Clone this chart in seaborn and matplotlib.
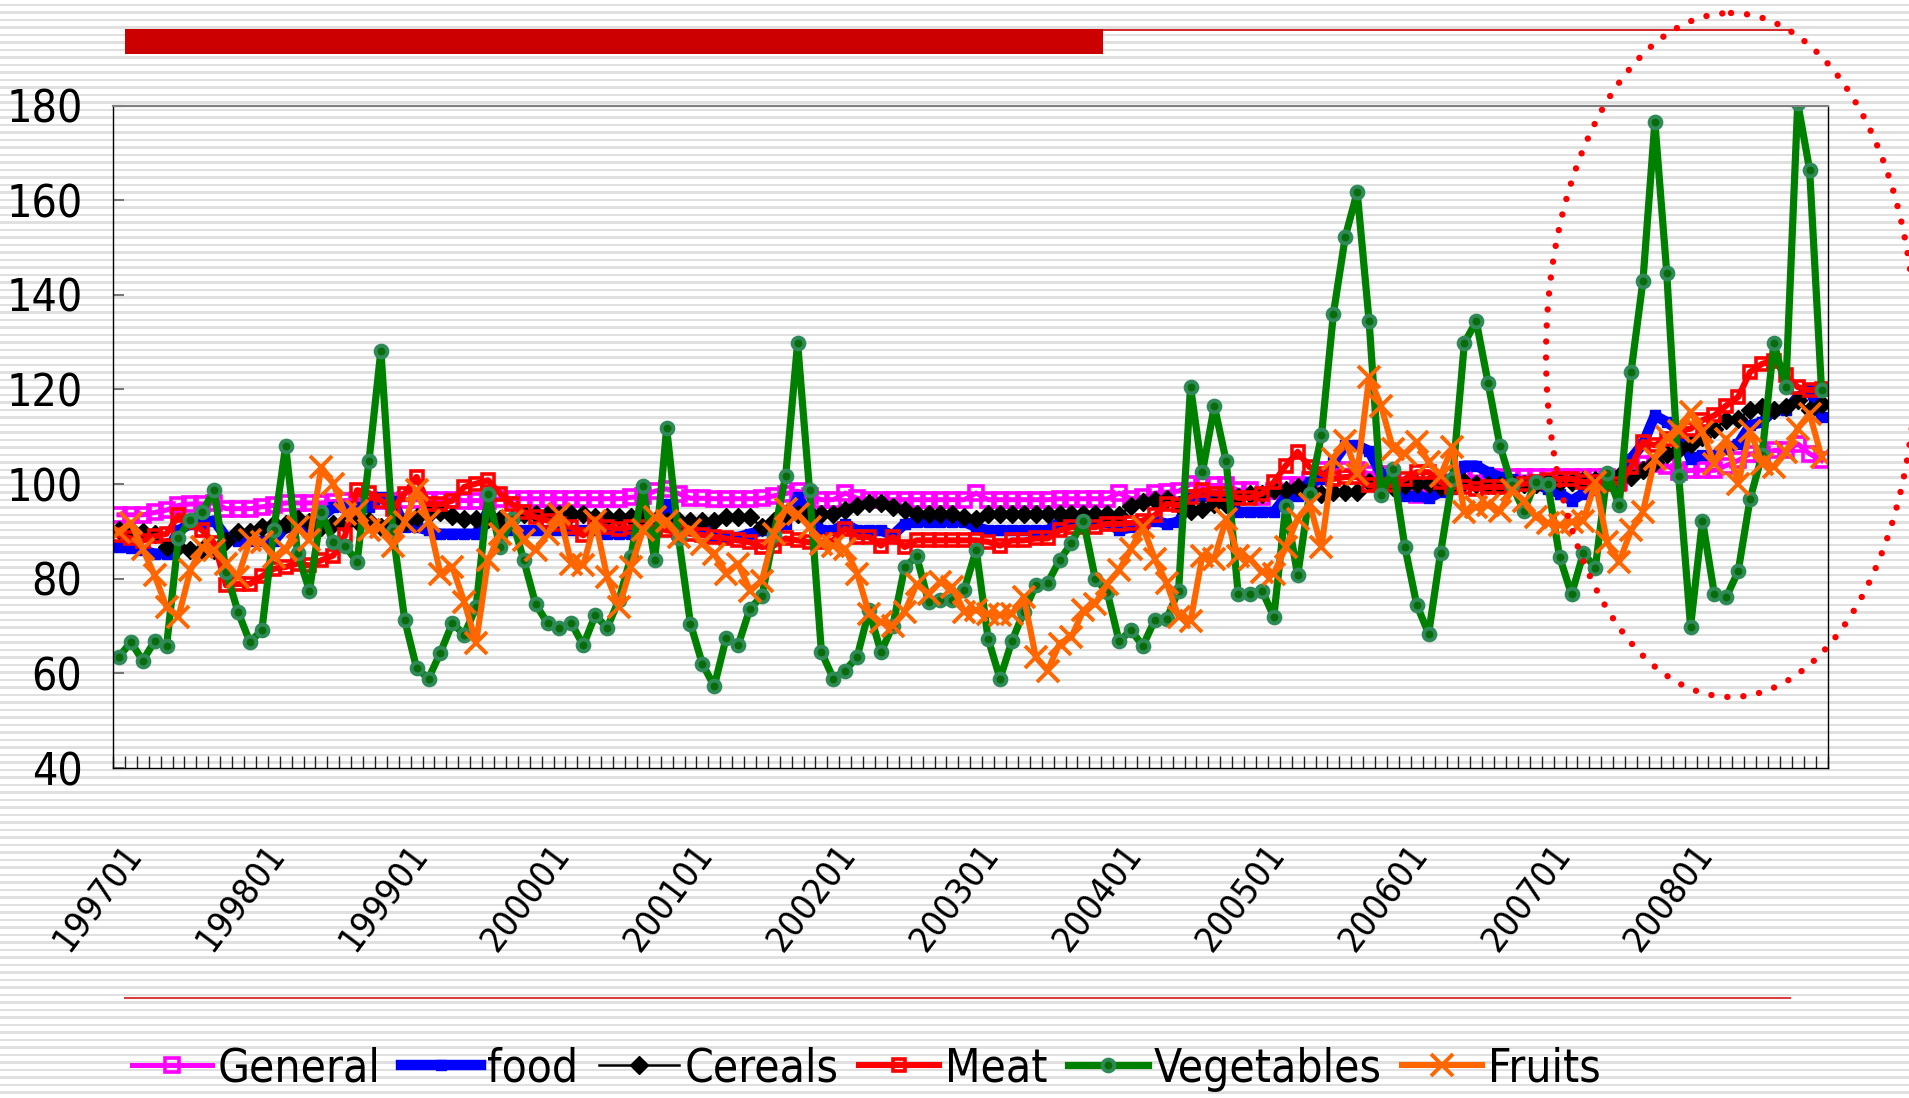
import numpy as np
import pandas as pd
import matplotlib
matplotlib.use("Agg")
import matplotlib.pyplot as plt
from matplotlib.patches import Ellipse, Rectangle
from matplotlib.transforms import ScaledTranslation
import seaborn as sns

W, H = 1909, 1098

# -----------------------------
# data (monthly index, 199701 - 200812)
# -----------------------------
months = [f"{y}{m:02d}" for y in range(1997, 2009) for m in range(1, 13)]
tick_labels = ["199701", "199801", "199901", "200001", "200101", "200201",
               "200301", "200401", "200501", "200601", "200701", "200801"]

general = [
    93.5, 93.5, 93.5, 94.0, 94.5, 95.5, 95.8, 95.8, 96.0, 94.8, 94.8, 94.8,
    95.2, 95.5, 96.0, 96.0, 96.0, 96.0, 96.3, 96.5, 96.5, 96.7, 96.5, 96.5,
    96.7, 96.7, 96.7, 96.7, 96.7, 96.5, 96.5, 96.5, 96.9, 96.9, 96.9, 96.9,
    96.9, 96.9, 96.9, 96.9, 96.9, 96.9, 96.9, 97.2, 97.5, 98.5, 99.0, 98.0,
    97.0, 97.0, 96.9, 96.9, 96.9, 96.9, 97.0, 97.5, 98.0, 98.5, 97.5, 96.7,
    96.7, 98.1, 97.0, 96.7, 96.7, 96.7, 96.7, 96.7, 96.7, 96.7, 96.7, 96.7,
    98.1, 96.7, 96.7, 96.7, 96.7, 96.7, 96.7, 96.9, 96.9, 96.9, 96.9, 96.9,
    98.1, 96.9, 97.2, 98.1, 98.3, 98.5, 100.0, 99.7, 99.7, 99.7, 98.7, 98.7,
    97.3, 98.5, 99.7, 99.7, 100.8, 102.9, 102.9, 102.9, 102.9, 102.2, 102.2, 100.0,
    98.7, 97.6, 99.0, 99.0, 101.8, 101.5, 101.5, 101.5, 101.5, 101.5, 101.5, 101.5,
    101.5, 101.5, 101.5, 101.5, 101.5, 101.5, 100.4, 103.6, 104.3, 104.3, 103.9, 102.5,
    102.9, 102.9, 102.9, 103.9, 105.0, 106.4, 106.4, 107.1, 107.1, 108.5, 106.4, 105.0,
]

food = [
    86.7, 86.5, 86.0, 85.3, 85.3, 90.2, 91.6, 91.6, 92.3, 88.8, 88.0, 88.0,
    88.0, 88.0, 90.9, 90.9, 90.9, 93.0, 95.1, 95.1, 95.1, 95.1, 97.2, 96.5,
    90.9, 90.9, 90.2, 89.5, 89.5, 89.5, 89.5, 94.4, 91.0, 90.2, 90.2, 90.2,
    90.2, 90.2, 90.2, 90.2, 90.2, 89.5, 89.5, 89.5, 94.4, 90.2, 95.8, 90.9,
    90.9, 90.9, 88.8, 88.8, 88.8, 89.5, 90.2, 90.2, 91.6, 97.2, 93.7, 90.2,
    90.2, 91.6, 90.2, 90.2, 90.2, 89.2, 91.6, 92.0, 92.0, 92.0, 92.0, 92.0,
    90.9, 90.2, 90.2, 90.2, 90.2, 90.2, 90.2, 92.0, 92.0, 92.0, 92.0, 92.0,
    90.2, 90.9, 91.6, 92.3, 91.6, 92.0, 97.0, 97.5, 97.5, 97.5, 94.1, 94.1,
    94.1, 94.1, 97.3, 97.5, 100.5, 101.0, 104.6, 108.2, 108.2, 107.0, 102.2, 99.5,
    97.5, 97.5, 97.0, 98.3, 99.0, 103.9, 103.9, 102.5, 101.5, 101.0, 100.4, 100.0,
    99.0, 98.0, 96.5, 98.0, 98.7, 100.4, 100.4, 105.4, 108.5, 114.5, 113.1, 111.3,
    105.4, 106.1, 106.1, 107.5, 108.5, 112.4, 113.1, 115.6, 115.6, 118.4, 119.8, 114.2,
]

cereals = [
    90.2, 90.2, 89.9, 89.5, 86.7, 86.7, 86.0, 86.0, 86.0, 88.0, 89.9, 89.9,
    90.9, 91.6, 91.6, 92.7, 92.0, 90.9, 91.6, 91.6, 92.3, 92.3, 90.9, 92.3,
    92.0, 93.0, 93.7, 94.0, 93.3, 92.7, 92.7, 92.7, 92.7, 92.7, 93.7, 93.7,
    93.7, 93.7, 93.7, 93.7, 93.0, 93.0, 93.0, 93.0, 93.0, 92.3, 92.3, 92.3,
    92.3, 92.3, 92.3, 93.0, 93.0, 93.0, 90.9, 92.3, 93.7, 93.7, 93.7, 93.7,
    93.7, 94.6, 95.3, 96.0, 96.0, 95.1, 94.6, 93.7, 93.7, 93.7, 93.7, 93.0,
    92.7, 93.7, 93.7, 93.7, 93.7, 93.7, 93.7, 93.7, 93.7, 93.7, 93.7, 93.7,
    93.4, 95.3, 96.2, 96.7, 96.9, 95.5, 94.4, 94.8, 95.8, 95.8, 97.3, 98.0,
    98.0, 98.7, 98.7, 99.4, 98.7, 98.0, 98.3, 98.3, 98.3, 100.4, 99.4, 99.4,
    99.7, 100.1, 100.1, 99.4, 99.7, 100.4, 100.1, 99.7, 99.7, 100.0, 100.1, 100.1,
    100.4, 100.4, 100.4, 100.8, 100.8, 101.1, 101.8, 101.5, 102.9, 104.6, 106.4, 107.5,
    108.5, 110.0, 111.7, 113.5, 113.8, 115.6, 116.3, 115.6, 116.3, 117.7, 115.6, 117.0,
]

meat = [
    89.2, 88.5, 88.0, 89.0, 89.5, 93.4, 92.0, 90.2, 87.5, 78.6, 78.9, 78.9,
    80.5, 82.1, 82.5, 83.2, 82.8, 83.9, 84.9, 89.2, 98.7, 98.1, 96.5, 94.8,
    98.0, 101.5, 95.8, 95.7, 96.5, 99.4, 100.1, 100.8, 98.0, 95.8, 94.1, 93.0,
    92.3, 91.6, 90.9, 89.2, 91.6, 90.9, 90.6, 90.9, 90.9, 90.9, 90.2, 89.9,
    89.5, 89.2, 88.8, 88.5, 88.1, 87.7, 86.7, 87.0, 88.5, 88.1, 87.7, 87.7,
    88.1, 90.6, 88.8, 88.8, 87.0, 88.8, 86.7, 88.1, 88.1, 88.1, 88.1, 88.1,
    88.1, 87.8, 87.0, 88.1, 88.1, 88.5, 88.5, 90.2, 90.9, 90.9, 90.9, 91.6,
    91.6, 91.8, 92.3, 93.4, 95.8, 95.5, 97.3, 98.7, 98.0, 98.0, 97.1, 97.1,
    98.0, 100.4, 103.9, 106.8, 103.6, 102.2, 101.1, 101.5, 101.5, 99.7, 99.7, 99.7,
    101.1, 102.5, 102.5, 100.4, 99.4, 99.4, 99.0, 99.4, 99.4, 99.4, 100.1, 100.4,
    100.8, 101.1, 101.1, 100.4, 100.4, 100.1, 100.1, 103.6, 108.9, 108.2, 109.6, 111.3,
    111.7, 113.5, 114.5, 116.6, 118.4, 123.7, 125.4, 126.1, 123.0, 120.5, 119.8, 120.1,
]

vegetables = [
    63.5, 66.6, 62.7, 66.8, 65.8, 88.7, 92.5, 94.1, 98.7, 81.4, 73.0, 66.6,
    69.1, 90.2, 108.0, 85.4, 77.5, 94.1, 87.7, 87.0, 83.5, 104.9, 128.2, 90.0,
    71.3, 61.1, 58.9, 64.4, 70.6, 68.2, 74.0, 98.0, 86.7, 92.7, 83.9, 74.6,
    70.6, 69.6, 70.6, 65.9, 72.3, 69.6, 75.6, 84.6, 99.5, 83.9, 111.8, 88.7,
    70.5, 62.0, 57.3, 67.5, 65.9, 73.7, 76.3, 89.2, 101.8, 129.8, 98.7, 64.5,
    58.9, 60.6, 63.5, 73.3, 64.5, 70.1, 82.5, 84.7, 75.1, 75.4, 75.4, 77.7,
    86.1, 67.3, 58.9, 66.8, 73.0, 78.6, 79.1, 83.9, 87.5, 92.3, 80.0, 77.2,
    66.8, 69.1, 65.8, 71.3, 71.5, 77.5, 120.5, 102.5, 116.5, 104.8, 76.8, 76.8,
    77.5, 72.0, 95.4, 80.7, 98.0, 110.3, 136.0, 152.3, 161.7, 134.4, 97.7, 103.2,
    86.8, 74.5, 68.4, 85.4, 101.0, 129.8, 134.4, 121.3, 108.0, 99.7, 94.4, 100.4,
    100.1, 84.6, 76.7, 85.4, 82.3, 102.4, 95.5, 123.7, 143.0, 176.5, 144.6, 101.8,
    69.9, 92.3, 76.7, 76.1, 81.6, 96.9, 106.1, 129.8, 120.5, 180.5, 166.4, 119.8,
]

fruits = [
    89.9, 91.8, 86.3, 80.7, 74.0, 72.0, 81.8, 86.7, 86.0, 83.2, 80.4, 88.1,
    87.7, 84.6, 86.0, 90.9, 88.1, 103.6, 100.1, 93.7, 94.4, 90.2, 90.9, 87.0,
    92.0, 98.7, 92.3, 81.1, 82.5, 75.1, 66.5, 83.9, 89.5, 92.3, 88.1, 86.0,
    89.5, 93.7, 83.2, 82.8, 92.3, 80.4, 74.0, 82.5, 90.2, 93.0, 92.3, 88.8,
    90.2, 87.4, 85.3, 81.1, 83.2, 77.5, 79.6, 89.5, 94.8, 93.7, 90.9, 87.4,
    87.0, 86.3, 81.1, 72.6, 70.8, 70.1, 73.0, 78.9, 76.8, 79.3, 78.2, 73.0,
    73.3, 72.6, 72.3, 72.6, 76.1, 63.5, 60.6, 66.3, 67.7, 73.3, 74.7, 78.9,
    81.8, 86.3, 90.9, 84.2, 79.0, 72.0, 71.0, 84.9, 84.2, 92.7, 84.9, 84.2,
    81.4, 81.1, 86.7, 92.7, 95.8, 86.7, 105.4, 109.2, 102.2, 122.6, 116.6, 107.5,
    106.4, 108.9, 104.6, 101.8, 107.8, 94.1, 95.1, 95.5, 94.4, 98.7, 96.5, 93.0,
    91.8, 91.3, 92.0, 92.3, 100.4, 87.7, 83.5, 90.2, 94.1, 105.4, 109.9, 111.3,
    115.2, 111.0, 104.3, 109.6, 100.1, 111.3, 104.3, 103.6, 106.8, 111.7, 114.9, 105.7,
]

df = pd.DataFrame({"month": months, "General": general, "food": food,
                   "Cereals": cereals, "Meat": meat,
                   "Vegetables": vegetables, "Fruits": fruits})
df["pos"] = np.arange(len(df))

# style of each series (Excel-like)
styles = {
    "General":    dict(color="#FF00FF", lw=3.6, marker="s", ms=9.5, mfc="none", mec="#FF00FF", mew=2.6),
    "food":       dict(color="#0000FF", lw=7.5, marker="s", ms=7, mfc="#0000FF", mec="#0000FF", mew=1),
    "Cereals":    dict(color="#000000", lw=1.8, marker="D", ms=9, mfc="#000000", mec="#000000", mew=1),
    "Meat":       dict(color="#FF0000", lw=4.4, marker="s", ms=8.5, mfc="none", mec="#FF0000", mew=2.6),
    "Vegetables": dict(color="#008000", lw=5.2, marker="o", ms=8.5, mfc="#0a6b0a", mec="#2E8B57", mew=2.8),
    "Fruits":     dict(color="#FF6600", lw=4.4, marker="x", ms=16, mfc="#FF6600", mec="#FF6600", mew=2.8),
}

plt.rcParams['font.family'] = ['DejaVu Sans']
plt.rcParams['font.stretch'] = 'condensed'

fig = plt.figure(figsize=(W / 100, H / 100), dpi=100)

# -----------------------------
# striped background + decorations
# -----------------------------
bg = fig.add_axes([0, 0, 1, 1], zorder=0)
bg.set_xlim(0, W)
bg.set_ylim(H, 0)
bg.axis("off")
for y0 in np.arange(5, H, 7.5):
    bg.axhspan(y0 - 1.3, y0 + 1.3, color="#e0e0e0", lw=0)
bg.add_patch(Rectangle((125, 29), 978, 25, color="#CC0000", lw=0))
bg.plot([1103, 1790], [30, 30], color="#CC0000", lw=1.2)
bg.plot([125, 1790], [998, 998], color="#D94040", lw=1.5)

# -----------------------------
# main chart
# -----------------------------
ax = fig.add_axes([113 / W, 1 - 768 / H, 1714.5 / W, 662.5 / H], zorder=1)
ax.set_facecolor("none")

for name, st in styles.items():
    sns.lineplot(data=df, x="pos", y=name, ax=ax, label=name, **st)

ax.set_xlim(-0.5, len(months) - 0.5)
ax.set_ylim(40, 180)
ax.set_yticks(range(40, 181, 20))
ax.set_xlabel("")
ax.set_ylabel("")

ax.set_xticks([months.index(t) for t in tick_labels])
ax.set_xticklabels(tick_labels)
ax.set_xticks(np.arange(-0.5, len(months), 1), minor=True)
ax.tick_params(axis="x", which="major", length=0, pad=50, labelsize=26)
ax.tick_params(axis="x", which="minor", direction="in", length=9, width=1, color="#222222")
ax.tick_params(axis="y", direction="in", length=8, width=1.5, color="#777777",
               labelsize=32, pad=22)
shift = ScaledTranslation(2 / 100, 0, fig.dpi_scale_trans)
for lab in ax.get_xticklabels():
    lab.set_rotation(53)
    lab.set_ha("right")
    lab.set_va("top")
    lab.set_rotation_mode("anchor")
    lab.set_transform(lab.get_transform() + shift)

for side in ["left", "bottom", "right"]:
    ax.spines[side].set_color("black")
    ax.spines[side].set_linewidth(1.0)
ax.spines["top"].set_color("#808080")
ax.spines["top"].set_linewidth(1.6)

handles, labels = ax.get_legend_handles_labels()
ax.get_legend().remove()
fig.legend(handles, labels, loc="center left", bbox_to_anchor=(132 / W, 1 - 1069 / H),
           ncol=6, frameon=False, fontsize=33, handlelength=1.75, handletextpad=0.12,
           columnspacing=0.45, numpoints=1, borderaxespad=0, borderpad=0)

# -----------------------------
# dotted highlight ellipse
# -----------------------------
ov = fig.add_axes([0, 0, 1, 1], zorder=3)
ov.set_xlim(0, W)
ov.set_ylim(H, 0)
ov.axis("off")
ov.add_patch(Ellipse((1731, 355), 370, 684, fill=False, edgecolor="#FF0000",
                     lw=4.6, linestyle=(0, (0.01, 2.5)), capstyle="round"))

fig.savefig("out.png", dpi=100)
